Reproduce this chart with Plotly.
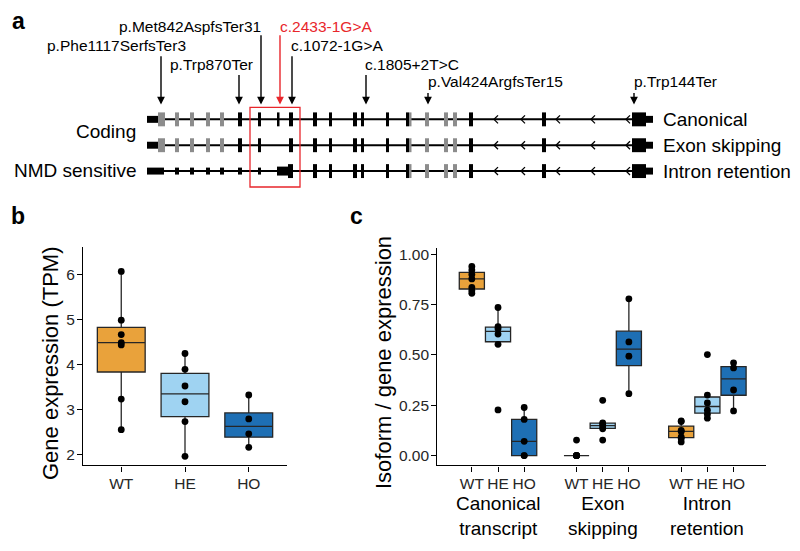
import numpy as np
import plotly.graph_objects as go

# ---------------- DATA ----------------
genotypes = ["WT", "HE", "HO"]
geno_colors = {"WT": "#E9A23B", "HE": "#9FD3F2", "HO": "#1E6FB4"}

# Panel b: gene expression (TPM)
tpm_WT = [6.06, 4.98, 4.66, 4.48, 4.43, 3.23, 2.55]
tpm_HE = [4.24, 3.89, 3.52, 3.17, 2.73, 1.96]
tpm_HO = [3.32, 2.79, 2.46, 2.16]
tpm = {"WT": tpm_WT, "HE": tpm_HE, "HO": tpm_HO}

# Panel c: isoform / gene expression
isoform_groups = ["Canonical<br>transcript", "Exon<br>skipping", "Intron<br>retention"]
canon_WT = [0.807, 0.820, 0.836, 0.878, 0.900, 0.922, 0.940]
canon_HE = [0.227, 0.553, 0.604, 0.631, 0.641, 0.736]
canon_HO = [0.0, 0.0, 0.071, 0.180, 0.239]
skip_WT = [0.0, 0.0, 0.0, 0.0, 0.0, 0.0, 0.077]
skip_HE = [0.077, 0.133, 0.143, 0.155, 0.163, 0.275]
skip_HO = [0.308, 0.494, 0.565, 0.779]
ret_WT = [0.068, 0.085, 0.093, 0.120, 0.125, 0.169, 0.173]
ret_HE = [0.186, 0.206, 0.226, 0.262, 0.301, 0.502]
ret_HO = [0.222, 0.326, 0.436, 0.461]
iso = [
    {"WT": canon_WT, "HE": canon_HE, "HO": canon_HO},
    {"WT": skip_WT, "HE": skip_HE, "HO": skip_HO},
    {"WT": ret_WT, "HE": ret_HE, "HO": ret_HO},
]

# Panel a: gene model (track units), exon (start, end, type)
canonical_exons = [(147, 158, "utr"), (158, 165, "alt"), (175, 179, "alt"), (190, 194, "alt"),
                   (206, 210, "alt"), (220, 224, "alt"), (238, 242, "cds"), (258, 261, "cds"),
                   (277, 279.5, "cds"), (289, 293, "cds"), (313, 317, "cds"), (329, 332, "cds"),
                   (353, 357, "cds"), (361, 364, "cds"), (386, 389, "cds"), (406, 409, "cds"),
                   (409, 411.5, "alt"), (425, 429, "alt"), (444, 448, "alt"), (453, 457, "alt"),
                   (469, 473, "cds"), (542, 546, "cds"), (632, 646, "cds"), (646, 653, "utr")]
skipping_exons = [e for e in canonical_exons if e[0] != 277]
retention_exons = [(147, 164, "utr"), (175, 179, "nmd"), (190, 194, "nmd"), (206, 210, "nmd"),
                   (220, 224, "nmd"), (238, 242, "nmd"), (258, 261, "nmd"), (277, 288, "ret"),
                   (288, 293, "cds")] + [e for e in canonical_exons if e[0] >= 313]
strand_marks = [495, 522, 557, 592, 627]
tracks = [("Canonical", canonical_exons), ("Exon skipping", skipping_exons),
          ("Intron retention", retention_exons)]

variants = ["p.Met842AspfsTer31", "c.2433-1G>A", "p.Phe1117SerfsTer3", "c.1072-1G>A",
            "p.Trp870Ter", "c.1805+2T>C", "p.Val424ArgfsTer15", "p.Trp144Ter"]
variant_pos = [261, 280, 161, 292, 239, 366, 428, 634]
variant_highlight = [False, True, False, False, False, False, False, False]

# ---------------- LAYOUT HELPERS ----------------
W, H = 800, 551
FONT = "Liberation Sans, Arial, Helvetica, sans-serif"
fig = go.Figure()

def px_x(a, b):
    return [a / W, b / W]

def px_y(top, bottom):
    return [1 - bottom / H, 1 - top / H]

def stats(v):
    v = np.asarray(v, float)
    q1, med, q3 = np.percentile(v, [25, 50, 75])
    iqr = q3 - q1
    lo = v[v >= q1 - 1.5 * iqr].min()
    hi = v[v <= q3 + 1.5 * iqr].max()
    return q1, med, q3, lo, hi

def add_box(xpos, vals, color, width, xa, ya):
    q1, med, q3, lo, hi = stats(vals)
    fig.add_trace(go.Box(x=[xpos], q1=[q1], median=[med], q3=[q3], lowerfence=[lo],
                         upperfence=[hi], width=width, fillcolor=color,
                         line=dict(color="#262626", width=1.3), whiskerwidth=0,
                         boxpoints=False, xaxis=xa, yaxis=ya, showlegend=False,
                         hoverinfo="skip"))
    fig.add_trace(go.Scatter(x=[xpos] * len(vals), y=vals, mode="markers",
                             marker=dict(color="black", size=6.8), xaxis=xa, yaxis=ya,
                             showlegend=False, hoverinfo="skip"))

# Panel b
for i, g in enumerate(genotypes):
    add_box(i, tpm[g], geno_colors[g], 0.75, "x", "y")

# Panel c
offsets = [-0.25, 0.0, 0.25]
c_ticks, c_text = [], []
for gi, grp in enumerate(iso):
    for k, g in enumerate(genotypes):
        pos = gi + 1 + offsets[k]
        c_ticks.append(pos)
        c_text.append(g)
        add_box(pos, grp[g], geno_colors[g], 0.24, "x2", "y2")

axis_common = dict(showline=True, linecolor="black", linewidth=1.2, ticks="outside",
                   ticklen=5, tickwidth=1.1, tickcolor="black", showgrid=False,
                   zeroline=False, fixedrange=True, ticklabelstandoff=-1,
                   tickfont=dict(family=FONT, size=15.5, color="#262626"))

shapes = []
annotations = []

# ---------------- Panel a gene model ----------------
track_y = [117, 143, 169]
half_h = {"utr": 3.5, "alt": 7, "cds": 7, "nmd": 3.5, "ret": 4.5}
col = {"utr": "black", "alt": "#8C8C8C", "cds": "black", "nmd": "black", "ret": "black"}
for (name, exons), ty in zip(tracks, track_y):
    shapes.append(dict(type="line", xref="x3", yref="y3", x0=150, x1=640, y0=ty, y1=ty,
                       line=dict(color="black", width=2)))
    for m in strand_marks:
        shapes.append(dict(type="path", xref="x3", yref="y3",
                           path=f"M {m+3},{ty-4} L {m-1},{ty} L {m+3},{ty+4}",
                           line=dict(color="black", width=1.3)))
    for s, e, kind in exons:
        shapes.append(dict(type="rect", xref="x3", yref="y3", x0=s, x1=e,
                           y0=ty - half_h[kind], y1=ty + half_h[kind],
                           fillcolor=col[kind], line=dict(width=0)))
    annotations.append(dict(xref="x3", yref="y3", x=661, y=ty, text=name, showarrow=False,
                            xanchor="left", yanchor="middle",
                            font=dict(family=FONT, size=19, color="black")))

# highlight box
shapes.append(dict(type="rect", xref="x3", yref="y3", x0=250, x1=300, y0=105, y1=185,
                   line=dict(color="#E8262B", width=1.3)))

annotations.append(dict(xref="x3", yref="y3", x=138, y=129, text="Coding", showarrow=False,
                        xanchor="right", yanchor="middle",
                        font=dict(family=FONT, size=19, color="black")))
annotations.append(dict(xref="x3", yref="y3", x=138, y=168, text="NMD sensitive",
                        showarrow=False, xanchor="right", yanchor="middle",
                        font=dict(family=FONT, size=19, color="black")))

# variant arrows and labels
label_row_y = [24, 24, 43, 43, 62, 62, 79, 79]
arrow_tail = [31, 31, 52, 52, 71, 71, 89, 89]
label_anchor = ["right", "left", "right", "left", "right", "left", "left", "left"]
label_dx = [2, -2, 27, -3, 16, -3, -2, -2]
for name, xp, hl, ly, tail, anc, dx in zip(variants, variant_pos, variant_highlight,
                                           label_row_y, arrow_tail, label_anchor, label_dx):
    c = "#E8262B" if hl else "black"
    annotations.append(dict(xref="x3", yref="y3", x=xp, y=102, ax=xp, ay=tail,
                            axref="x3", ayref="y3", text="", showarrow=True, arrowhead=2,
                            arrowsize=1.1, arrowwidth=1.4, arrowcolor=c))
    annotations.append(dict(xref="x3", yref="y3", x=xp + dx, y=ly, text=name,
                            showarrow=False, xanchor=anc, yanchor="middle",
                            font=dict(family=FONT, size=15.5, color=c)))

# panel letters
for letter, lx, ly in [("a", 18, 18), ("b", 18, 214), ("c", 356, 214)]:
    annotations.append(dict(xref="x3", yref="y3", x=lx, y=ly, text=f"<b>{letter}</b>",
                            showarrow=False, xanchor="center", yanchor="middle",
                            font=dict(family=FONT, size=23, color="black")))

# axis titles
annotations.append(dict(xref="x3", yref="y3", x=50, y=362, text="Gene expression (TPM)",
                        textangle=-90, showarrow=False, xanchor="center", yanchor="middle",
                        font=dict(family=FONT, size=22, color="black")))
annotations.append(dict(xref="x3", yref="y3", x=383, y=362, text="Isoform / gene expression",
                        textangle=-90, showarrow=False, xanchor="center", yanchor="middle",
                        font=dict(family=FONT, size=22, color="black")))

# isoform group labels
for gi, lab in enumerate(isoform_groups):
    annotations.append(dict(xref="x2", yref="y3", x=gi + 1, y=516, text=lab,
                            showarrow=False, xanchor="center", yanchor="middle",
                            font=dict(family=FONT, size=19, color="black")))

fig.update_layout(
    width=W, height=H, margin=dict(l=0, r=0, t=0, b=0),
    paper_bgcolor="white", plot_bgcolor="rgba(0,0,0,0)", boxmode="overlay",
    showlegend=False,
    xaxis=dict(domain=px_x(83, 287), range=[-0.6, 2.6], tickvals=[0, 1, 2],
               ticktext=genotypes, anchor="y", **axis_common),
    yaxis=dict(domain=px_y(245, 465), range=[1.757, 6.61], tickvals=[2, 3, 4, 5, 6],
               anchor="x", **axis_common),
    xaxis2=dict(domain=px_x(437.3, 766), range=[0.42, 3.56], tickvals=c_ticks,
                ticktext=c_text, anchor="y2", **axis_common),
    yaxis2=dict(domain=px_y(246.7, 465), range=[-0.049, 1.03],
                tickvals=[0, 0.25, 0.5, 0.75, 1.0],
                ticktext=["0.00", "0.25", "0.50", "0.75", "1.00"], anchor="x2",
                **axis_common),
    xaxis3=dict(domain=[0, 1], range=[0, W], visible=False, fixedrange=True, anchor="y3"),
    yaxis3=dict(domain=[0, 1], range=[H, 0], visible=False, fixedrange=True, anchor="x3"),
    shapes=shapes, annotations=annotations,
)
# invisible trace to activate the pixel-unit axes used by panel a
fig.add_trace(go.Scatter(x=[0], y=[0], xaxis="x3", yaxis="y3", mode="markers",
                         marker=dict(opacity=0), showlegend=False, hoverinfo="skip"))

fig.write_html("out.html", config={"displayModeBar": False},
               post_script="document.body.style.margin='0px';")
